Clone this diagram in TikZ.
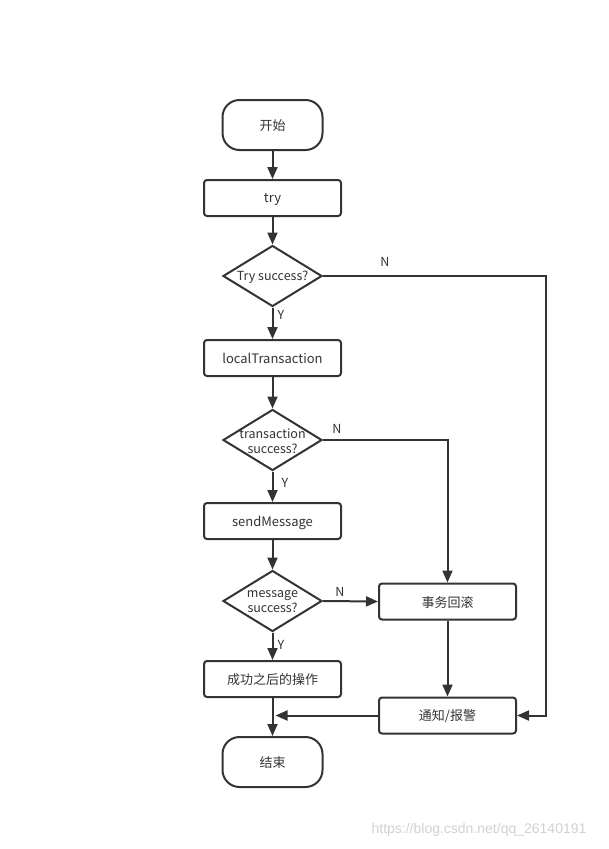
\documentclass[tikz,border=0pt]{standalone}
\usepackage{fontspec}
\setmainfont{Noto Sans CJK SC}
\usetikzlibrary{shapes.geometric,arrows.meta}
\definecolor{linegray}{HTML}{333333}
\begin{document}
\begin{tikzpicture}[x=1pt,y=-1pt,
  font=\fontsize{13}{15}\selectfont,
  every node/.style={inner sep=0pt,text=linegray},
  termbox/.style={draw=linegray,line width=2pt,rounded corners=17pt,minimum width=100pt,minimum height=50pt,text depth=-3pt},
  procbox/.style={draw=linegray,line width=2pt,rounded corners=3pt,minimum width=137pt,minimum height=36pt,text depth=-3pt},
  askbox/.style={draw=linegray,line width=2pt,diamond,aspect=1.62,minimum width=99pt,minimum height=61pt,
    label={[align=center,font=\fontsize{12.5}{15}\selectfont,yshift=-1pt]center:#1}},
  flow/.style={draw=linegray,line width=2pt,-{Triangle[length=12pt,width=10pt]}},
  tag/.style={font=\fontsize{12.5}{15}\selectfont}]
\useasboundingbox (0,0) rectangle (608,849);
% main line
\node [termbox] (start) at (272.5,125) {开始};
\node [procbox] (try) at (272.5,198) {try};
\node [askbox={Try success?}] (tryok) at (272.5,276) {};
\node [procbox] (local) at (272.5,358) {localTransaction};
\node [askbox={transaction\\success?}] (txok) at (272.5,440) {};
\node [procbox] (send) at (272.5,521) {sendMessage};
\node [askbox={message\\success?}] (msgok) at (272.5,601) {};
\node [procbox] (after) at (272.5,679) {成功之后的操作};
\node [termbox] (stop) at (272.5,762) {结束};
% right column
\node [procbox] (rollback) at (447.5,601.5) {事务回滚};
\node [procbox] (notify) at (447.5,715.5) {通知/报警};
\coordinate (corner) at (546,276);
\coordinate (join) at (after.south |- notify.west);
% arrows
\draw [flow] (start) -- (try);
\draw [flow] (try) -- (tryok);
\draw [flow] (tryok) -- (local);
\draw [flow] (local) -- (txok);
\draw [flow] (txok) -- (send);
\draw [flow] (send) -- (msgok);
\draw [flow] (msgok) -- (after);
\draw [flow] (after) -- (stop);
\draw [flow] (tryok.east) -- (corner) |- (notify.east);
\draw [flow] (txok.east) -| (rollback.north);
\draw [flow] (msgok.east) -- (rollback.west);
\draw [flow] (rollback) -- (notify);
\draw [flow] (notify.west) -- ([xshift=3pt]join);
% labels
\node [tag] (y1) at (281,315) {Y};
\node [tag] (y2) at (285,483) {Y};
\node [tag] (y3) at (281,645) {Y};
\node [tag] (n1) at (385,262) {N};
\node [tag] (n2) at (337,429) {N};
\node [tag] (n3) at (340,592) {N};
\node [font=\fontsize{14}{16}\selectfont\setmainfont{Liberation Sans},text=black!18] (mark) at (479,830) {https://blog.csdn.net/qq\_26140191};
\end{tikzpicture}
\end{document}
